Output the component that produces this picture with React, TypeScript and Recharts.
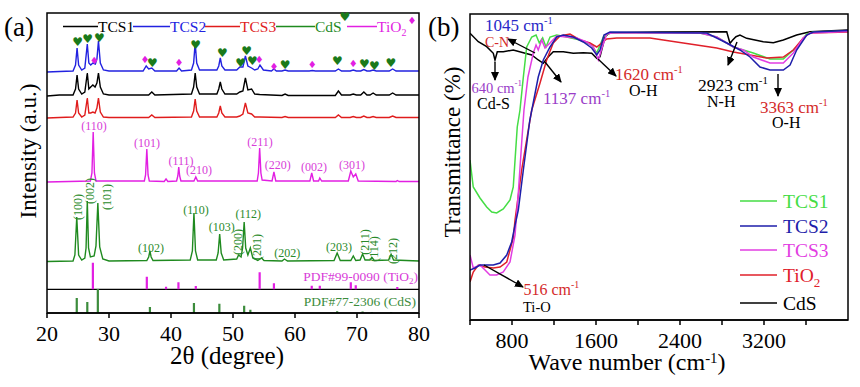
import React from "react";
import { ComposedChart, LineChart, Line, Scatter, XAxis, YAxis, ReferenceLine } from "recharts";

type Pt = [number, number];

// ---- panel (a): XRD, offsets already included (a.u.) ----
const xrdTCS2: Pt[] = [
  [20, 241], [22, 241.5], [24.2, 242], [24.6, 248], [24.85, 265], [25.1, 248], [25.6, 243], [26.1, 245], [26.5, 269],
  [26.75, 250], [27.05, 248], [27.4, 250], [27.8, 249], [28.05, 254], [28.3, 272], [28.6, 250], [29.1, 243], [30, 242],
  [35.5, 242], [36.0, 247], [36.4, 244], [36.9, 245], [37.4, 242], [40.9, 242], [41.3, 245], [41.7, 242], [43.3, 243],
  [43.65, 250], [43.9, 270], [44.15, 250], [44.6, 243], [47.4, 243], [47.7, 247], [47.95, 255], [48.2, 247], [48.7, 243],
  [50.6, 243], [51.1, 246], [51.6, 246], [52.0, 257], [52.4, 247], [53.0, 245], [53.5, 243], [54.0, 244], [54.35, 248],
  [54.9, 243], [56.2, 242], [56.6, 244], [57.0, 242], [57.9, 242], [58.4, 243], [58.9, 242], [62.3, 242], [62.8, 242.5],
  [63.3, 242], [66.5, 242], [67.0, 244], [67.5, 242], [68.9, 242], [69.4, 243], [69.9, 242], [70.6, 242], [71.1, 243.5],
  [71.6, 242], [72.1, 242], [72.6, 243], [73.1, 242], [75.2, 242], [75.75, 244], [76.3, 242], [80, 242],
];
const xrdTCS1: Pt[] = [
  [20, 217], [22, 218], [24.2, 218], [24.6, 224], [24.85, 238], [25.1, 224], [25.6, 219], [26.1, 221], [26.5, 240],
  [26.75, 224], [27.05, 226], [27.4, 228], [27.75, 226], [28.05, 230], [28.3, 240], [28.6, 226], [29.1, 219], [30, 218],
  [36.4, 218], [36.9, 221], [37.4, 218], [43.3, 219], [43.65, 226], [43.9, 240], [44.15, 226], [44.6, 219], [47.4, 219],
  [47.7, 224], [47.95, 231], [48.2, 224], [48.7, 219], [50.6, 219], [51.1, 221], [51.6, 222], [52.0, 235], [52.4, 223],
  [53.0, 224], [53.5, 219], [54.3, 218.5], [57.9, 217.5], [58.4, 219], [58.9, 217.5], [66.5, 217.5], [67.0, 222],
  [67.5, 218], [68.9, 218], [69.4, 219], [69.9, 218], [70.6, 218], [71.1, 221], [71.6, 218], [72.1, 218], [72.6, 220],
  [73.1, 218], [75.2, 218], [75.75, 220], [76.3, 218], [80, 218],
];
const xrdTCS3: Pt[] = [
  [20, 195], [22, 195.5], [24.2, 196], [24.6, 200], [24.85, 213], [25.1, 200], [25.6, 196], [26.1, 198], [26.5, 215],
  [26.75, 200], [27.05, 200], [27.4, 201], [27.75, 200], [28.05, 205], [28.3, 215], [28.6, 201], [29.1, 196], [30, 195.5],
  [36.4, 195.5], [36.9, 198], [37.4, 195.5], [43.3, 196], [43.65, 202], [43.9, 214], [44.15, 202], [44.6, 196], [47.4, 196],
  [47.7, 200], [47.95, 207], [48.2, 200], [48.7, 196], [50.6, 196], [51.1, 197], [51.6, 199], [52.0, 210], [52.4, 200],
  [53.0, 199], [53.5, 196], [54.3, 196], [57.9, 195.5], [58.4, 196.5], [58.9, 195.5], [66.5, 195.5], [67.0, 198],
  [67.5, 195.5], [68.9, 195.5], [69.4, 196.5], [69.9, 195.5], [70.6, 195.5], [71.1, 197], [71.6, 195.5], [72.1, 195.5],
  [72.6, 196.5], [73.1, 195.5], [75.2, 195.5], [75.75, 197], [76.3, 195.5], [80, 195.5],
];
const xrdTiO2: Pt[] = [
  [20, 131], [27.0, 132], [27.25, 140], [27.45, 181], [27.65, 140], [27.9, 132], [35.7, 132], [35.9, 138], [36.1, 164],
  [36.3, 138], [36.5, 132], [38.9, 131.5], [39.2, 134], [39.5, 131.5], [40.9, 132], [41.1, 137], [41.25, 146], [41.4, 137],
  [41.6, 132], [43.7, 132], [44.0, 136], [44.3, 132], [53.9, 132], [54.1, 140], [54.3, 165], [54.5, 140], [54.7, 133],
  [56.3, 132], [56.6, 141], [56.9, 132], [62.4, 132], [62.7, 140], [63.0, 132], [63.8, 132], [64.0, 135], [64.3, 132],
  [68.6, 132], [69.0, 142], [69.4, 136], [69.8, 139], [70.2, 132], [76.3, 131.5], [76.5, 132.5], [76.8, 131.5], [80, 131.5],
];
const xrdCdS: Pt[] = [
  [20, 51.5], [24.2, 52], [24.5, 58], [24.8, 96], [25.1, 58], [25.6, 53], [26.1, 55], [26.3, 65], [26.5, 112], [26.7, 65],
  [27.0, 56], [27.6, 57], [27.9, 67], [28.2, 110], [28.5, 66], [29.0, 54], [30, 52], [36.1, 52.5], [36.4, 56], [36.6, 62],
  [36.8, 56], [37.1, 52.5], [43.1, 53], [43.45, 62], [43.7, 100], [43.95, 62], [44.3, 53], [47.3, 53], [47.6, 60],
  [47.85, 79], [48.1, 60], [48.5, 53], [50.6, 54], [50.9, 58], [51.3, 56], [51.55, 65], [51.8, 91], [52.05, 65],
  [52.4, 58], [52.8, 65], [53.2, 55], [54.0, 52.5], [54.6, 55], [55.0, 52.5], [57.9, 52], [58.3, 54], [58.8, 52],
  [66.3, 52.5], [66.8, 60], [67.3, 52.5], [69.0, 52.5], [69.4, 57], [69.8, 52.5], [70.5, 53], [70.9, 59], [71.3, 53],
  [72.1, 53], [72.4, 55.5], [72.8, 52.5], [75.1, 53], [75.5, 58.7], [75.9, 53], [80, 52],
];

// reference patterns (stick positions / heights)
const tio2RefPos = [27.4, 36.1, 39.2, 41.2, 44.0, 54.3, 56.6, 62.7, 64.0, 69.0, 69.8, 76.5];
const tio2RefTop = [50.3, 36.3, 26.3, 30.7, 27, 40.7, 29.7, 27.3, 27.3, 30.7, 27.7, 26];
const TIO2_REF_BASE = 23.7;
const cdsRefPos = [24.8, 26.5, 28.2, 36.6, 43.7, 47.8, 51.8, 52.8, 66.8, 70.9, 72.4, 75.5];
const cdsRefTop = [15, 11, 24, 6, 10, 9.3, 7.3, 3.3, 1.7, 1.5, 1, 1];

// phase markers above TCS2
const heartMarks: Pt[] = [
  [24.95, 271], [26.56, 274.5], [28.44, 275.5], [36.98, 250], [43.98, 268.5], [48.27, 260.5], [51.24, 250],
  [52.21, 262], [53.11, 252], [58.39, 248], [66.82, 252], [71.18, 249.5], [72.79, 247], [75.48, 250],
];
const diamondMarks: Pt[] = [
  [27.63, 253], [35.81, 253.5], [41.29, 251], [54.24, 254], [56.61, 246.5], [62.79, 248.5], [69.4, 250],
];

const xrdTicks = [20, 30, 40, 50, 60, 70, 80];

// ---- panel (b): FTIR ----
const ftirCdS: Pt[] = [
  [400, 286.7], [479, 278.3], [559, 273.3], [622, 266.7], [638, 260], [660, 268.3], [717, 268.3], [812, 270], [908, 267.3],
  [988, 265], [1050, 260], [1098, 256.7], [1146, 263.3], [1193, 268.3], [1289, 268.3], [1384, 266.7], [1479, 267.3],
  [1559, 266.7], [1607, 261.7], [1638, 263.3], [1686, 283.3], [1733, 287.3], [2200, 288], [2845, 288.3], [2876, 276.7],
  [2902, 280], [2933, 283.3], [2971, 285], [3035, 281.7], [3193, 278.3], [3289, 277.3], [3384, 280], [3511, 285],
  [3638, 288.3], [4000, 290],
];
const ftirTCS1: Pt[] = [
  [400, 160], [431, 133], [495, 122], [559, 113], [607, 108], [654, 107], [717, 111], [781, 120], [812, 133], [829, 160],
  [850, 193], [876, 210], [908, 243], [940, 273], [988, 283], [1029, 285], [1060, 277], [1092, 282], [1124, 273],
  [1162, 283], [1226, 285], [1321, 283], [1448, 280], [1559, 275], [1607, 267], [1670, 283], [1733, 287], [2590, 287],
  [2750, 283], [2908, 273], [3003, 270], [3098, 267], [3257, 261], [3384, 261], [3511, 273], [3607, 286], [3670, 288],
  [4000, 289],
];
const ftirTCS2: Pt[] = [
  [400, 50], [448, 52], [495, 55], [622, 55], [686, 57], [750, 65], [797, 78], [829, 95], [860, 110], [908, 150],
  [970, 200], [1050, 243], [1098, 260], [1162, 273], [1226, 283], [1289, 285], [1384, 283], [1479, 278], [1559, 272],
  [1607, 265], [1638, 270], [1676, 285], [1733, 288], [2654, 287], [2845, 277], [2971, 270], [3067, 263], [3162, 253],
  [3257, 250], [3384, 250], [3448, 255], [3511, 270], [3607, 285], [3670, 288], [4000, 289.5],
];
const ftirTCS3: Pt[] = [
  [400, 65], [431, 52], [495, 55], [543, 50], [590, 45], [654, 45], [717, 48], [781, 58], [829, 85], [860, 127],
  [892, 177], [914, 210], [952, 243], [1003, 267], [1029, 275], [1050, 270], [1083, 280], [1114, 272], [1162, 277],
  [1226, 284], [1321, 283], [1416, 282], [1511, 278], [1574, 273], [1622, 260], [1657, 272], [1702, 286], [1752, 287],
  [2590, 287], [2750, 283], [2908, 273], [3003, 270], [3098, 263], [3257, 257], [3384, 257], [3479, 267], [3574, 282],
  [3638, 287], [4000, 288.5],
];
const ftirTiO2: Pt[] = [
  [400, 38], [431, 48], [479, 55], [543, 53], [622, 52], [686, 53], [750, 58], [812, 82], [829, 100], [892, 150],
  [955, 190], [988, 210], [1067, 237], [1130, 260], [1193, 277], [1257, 284], [1352, 286], [1448, 280], [1543, 277],
  [1607, 273], [1654, 277], [1702, 281], [1797, 282], [2114, 282], [2431, 277], [2750, 272], [2908, 268], [3067, 265],
  [3226, 262], [3384, 263], [3479, 270], [3574, 282], [3638, 287], [4000, 288],
];
const ftirTicks = [400, 800, 1200, 1600, 2000, 2400, 2800, 3200, 3600];
const ftirLabelled = [800, 1600, 2400, 3200];

const SERIF = "Liberation Serif, Tinos, DejaVu Serif, serif";

const toPoints = (pts: Pt[]) => pts.map(([x, y]) => ({ x, y }));
const sticks = (pos: number[], top: number[], base: number) =>
  pos.flatMap((p, i) => [
    { x: p, y: base },
    { x: p, y: top[i] },
    { x: p, y: null },
  ]);

const glyph = (ch: string, color: string, size: number) => (props: any) =>
  (
    <text x={props.cx} y={props.cy} fill={color} fontSize={size} textAnchor="middle" dominantBaseline="central" style={{ fontFamily: "DejaVu Sans" }}>
      {ch}
    </text>
  );

// tick labels: blank strings for the unlabelled minor ticks
const SerifTick = (props: any) => {
  const { x, y, payload, formatter } = props;
  const label = formatter ? formatter(payload.value) : String(payload.value);
  if (!label) return null;
  return (
    <text x={x} y={y + 16} textAnchor="middle" fontSize={22} fill="#000" style={{ fontFamily: SERIF }}>
      {label}
    </text>
  );
};

const Sup = ({ children }: { children: string }) => (
  <tspan dy={-7} fontSize="0.62em">
    {children}
  </tspan>
);

const XrdPanel = () => (
  <ComposedChart width={430} height={387} margin={{ top: 13, right: 11, bottom: 14, left: 47 }}>
    <XAxis
      type="number"
      dataKey="x"
      domain={[20, 80]}
      ticks={xrdTicks}
      tickSize={5}
      tickMargin={7}
      height={60}
      stroke="#000"
      strokeWidth={1.5}
      tick={<SerifTick />}
      allowDataOverflow
    />
    <YAxis type="number" dataKey="y" domain={[0, 300]} hide allowDataOverflow />
    <ReferenceLine y={TIO2_REF_BASE} stroke="#000" strokeWidth={1.3} />
    <Line data={toPoints(xrdTCS2)} dataKey="y" type="linear" stroke="#2222e0" strokeWidth={1.4} dot={false} isAnimationActive={false} />
    <Line data={toPoints(xrdTCS1)} dataKey="y" type="linear" stroke="#000" strokeWidth={1.4} dot={false} isAnimationActive={false} />
    <Line data={toPoints(xrdTCS3)} dataKey="y" type="linear" stroke="#e01c1c" strokeWidth={1.4} dot={false} isAnimationActive={false} />
    <Line data={toPoints(xrdTiO2)} dataKey="y" type="linear" stroke="#e21fe2" strokeWidth={1.4} dot={false} isAnimationActive={false} />
    <Line data={toPoints(xrdCdS)} dataKey="y" type="linear" stroke="#1f8a1f" strokeWidth={1.4} dot={false} isAnimationActive={false} />
    <Line data={sticks(tio2RefPos, tio2RefTop, TIO2_REF_BASE)} dataKey="y" type="linear" stroke="#e21fe2" strokeWidth={2.2} dot={false} isAnimationActive={false} />
    <Line data={sticks(cdsRefPos, cdsRefTop, 0)} dataKey="y" type="linear" stroke="#3c8c3c" strokeWidth={2.2} dot={false} isAnimationActive={false} />
    <Scatter data={toPoints(heartMarks)} shape={glyph("\u2665", "#1a7a1a", 12)} isAnimationActive={false} />
    <Scatter data={toPoints(diamondMarks)} shape={glyph("\u2666", "#e21fe2", 10)} isAnimationActive={false} />
  </ComposedChart>
);

const ftirFormat = (v: number) => (ftirLabelled.includes(v) ? String(v) : "");

const FtirPanel = () => (
  <LineChart width={430} height={387} margin={{ top: 14, right: 12, bottom: 12, left: 40 }}>
    <XAxis
      type="number"
      dataKey="x"
      domain={[400, 4000]}
      ticks={ftirTicks}
      tickSize={5}
      tickMargin={7}
      height={55}
      stroke="#000"
      strokeWidth={1.5}
      tick={<SerifTick formatter={ftirFormat} />}
      allowDataOverflow
    />
    <YAxis type="number" dataKey="y" domain={[0, 306]} hide allowDataOverflow />
    <Line data={toPoints(ftirCdS)} dataKey="y" type="linear" stroke="#000" strokeWidth={1.5} dot={false} isAnimationActive={false} />
    <Line data={toPoints(ftirTCS1)} dataKey="y" type="linear" stroke="#45dd45" strokeWidth={1.5} dot={false} isAnimationActive={false} />
    <Line data={toPoints(ftirTiO2)} dataKey="y" type="linear" stroke="#e0202a" strokeWidth={1.5} dot={false} isAnimationActive={false} />
    <Line data={toPoints(ftirTCS3)} dataKey="y" type="linear" stroke="#e23ee2" strokeWidth={1.5} dot={false} isAnimationActive={false} />
    <Line data={toPoints(ftirTCS2)} dataKey="y" type="linear" stroke="#1e1eaa" strokeWidth={1.5} dot={false} isAnimationActive={false} />
  </LineChart>
);

const tio2Labels: [string, number, number][] = [
  ["(110)", 94, 130], ["(101)", 147, 146.5], ["(111)", 181, 165], ["(210)", 199, 174],
  ["(211)", 260, 146], ["(220)", 277.7, 169], ["(002)", 314, 171], ["(301)", 352, 168.5],
];
const cdsFlatLabels: [string, number, number][] = [
  ["(102)", 151, 251.5], ["(110)", 196, 214], ["(103)", 221.7, 231], ["(112)", 248.3, 217.5],
  ["(202)", 287.3, 257], ["(203)", 339, 251],
];
const cdsVertLabels: [string, number, number][] = [
  ["(100)", 78, 207], ["(002)", 90, 191], ["(101)", 107, 197], ["(200)", 237.5, 242],
  ["(201)", 256.5, 247], ["(211)", 365, 242], ["(114)", 374, 249], ["(212)", 393.3, 251],
];

const legendA = [
  { x1: 63, x2: 98, label: "TCS1", color: "#000" },
  { x1: 133, x2: 170, label: "TCS2", color: "#2222e0" },
  { x1: 205, x2: 240, label: "TCS3", color: "#e01c1c" },
  { x1: 276, x2: 315, label: "CdS", color: "#1f8a1f" },
  { x1: 347, x2: 377, label: "TiO", color: "#e21fe2" },
];

const legendB = [
  { y: 201, label: "TCS1", color: "#45dd45" },
  { y: 226, label: "TCS2", color: "#1e1eaa" },
  { y: 250, label: "TCS3", color: "#e23ee2" },
  { y: 275, label: "TiO", color: "#e0202a" },
  { y: 303, label: "CdS", color: "#000" },
];

const arrows: [number, number, number, number][] = [
  [535, 53, 508, 39],
  [495, 62, 495, 80],
  [545, 62, 561, 82],
  [598, 59, 616, 76],
  [737, 42, 728, 65],
  [778, 74, 778, 96],
  [484, 265, 523, 287],
];

const Overlay = () => (
  <svg width={860} height={387} style={{ position: "absolute", left: 0, top: 0, pointerEvents: "none", fontFamily: SERIF }}>
    <defs>
      <marker id="ah" markerWidth="9" markerHeight="8" refX="8" refY="4" orient="auto" markerUnits="userSpaceOnUse">
        <path d="M0,0 L9,4 L0,8 z" fill="#000" />
      </marker>
    </defs>
    {/* panel (a) */}
    <rect x={47} y={13} width={372} height={300} fill="none" stroke="#000" strokeWidth={1.5} />
    <text x={4} y={36} fontSize={27}>(a)</text>
    {legendA.map((l) => (
      <g key={l.label}>
        <line x1={l.x1} x2={l.x2} y1={26.5} y2={26.5} stroke={l.color} strokeWidth={1.5} />
        <text x={l.x2} y={31.5} fontSize={15.5} fill={l.color}>
          {l.label}
          {l.label === "TiO" && <tspan dy={4} fontSize={10}>2</tspan>}
        </text>
      </g>
    ))}
    <text x={345} y={17} fontSize={12} fill="#1a7a1a" textAnchor="middle" dominantBaseline="central" style={{ fontFamily: "DejaVu Sans" }}>{"\u2665"}</text>
    <text x={412} y={20} fontSize={10} fill="#e21fe2" textAnchor="middle" dominantBaseline="central" style={{ fontFamily: "DejaVu Sans" }}>{"\u2666"}</text>
    <text transform="translate(28,151) rotate(-90)" textAnchor="middle" dominantBaseline="central" fontSize={23}>Intensity (a.u.)</text>
    {tio2Labels.map(([t, x, y]) => (
      <text key={t + x} x={x} y={y} fontSize={12} fill="#d83cd8" textAnchor="middle">{t}</text>
    ))}
    {cdsFlatLabels.map(([t, x, y]) => (
      <text key={t + x} x={x} y={y} fontSize={12} fill="#2a8a2a" textAnchor="middle">{t}</text>
    ))}
    {cdsVertLabels.map(([t, x, y]) => (
      <text key={t + x} transform={`translate(${x},${y}) rotate(-90)`} fontSize={12} fill="#2a8a2a" textAnchor="middle" dominantBaseline="central">{t}</text>
    ))}
    <text x={418} y={280.5} fontSize={13.5} fill="#d83cd8" textAnchor="end">
      PDF#99-0090 (TiO<tspan dy={3} fontSize={9}>2</tspan><tspan dy={-3}>)</tspan>
    </text>
    <text x={416} y={306} fontSize={13.5} fill="#3c8c3c" textAnchor="end">PDF#77-2306 (CdS)</text>
    <text x={227} y={364} fontSize={25} textAnchor="middle">2θ (degree)</text>

    {/* panel (b) */}
    <rect x={470} y={14} width={378} height={306} fill="none" stroke="#000" strokeWidth={1.5} />
    <text x={428} y={36} fontSize={27}>(b)</text>
    <text transform="translate(452,152) rotate(-90)" textAnchor="middle" dominantBaseline="central" fontSize={23}>Transmittance (%)</text>
    <text x={627} y={370} fontSize={24} textAnchor="middle">
      Wave number (cm<Sup>-1</Sup><tspan dy={7}>)</tspan>
    </text>
    {arrows.map(([x1, y1, x2, y2], i) => (
      <line key={i} x1={x1} y1={y1} x2={x2} y2={y2} stroke="#000" strokeWidth={1.4} markerEnd="url(#ah)" />
    ))}
    <text x={485} y={30.5} fontSize={17} fill="#2828c8">1045 cm<Sup>-1</Sup></text>
    <text x={485} y={46.5} fontSize={14} fill="#d42a2a">C-N</text>
    <text x={471.5} y={93} fontSize={14.5} fill="#9a3dc8">640 cm<Sup>-1</Sup></text>
    <text x={477} y={109} fontSize={16}>Cd-S</text>
    <text x={543} y={104} fontSize={17} fill="#9a3dc8">1137 cm<Sup>-1</Sup></text>
    <text x={615} y={80} fontSize={17} fill="#d42a2a">1620 cm<Sup>-1</Sup></text>
    <text x={629} y={96} fontSize={16}>O-H</text>
    <text x={698} y={91} fontSize={17.5}>2923 cm<Sup>-1</Sup></text>
    <text x={707} y={106.5} fontSize={16}>N-H</text>
    <text x={760} y={112.5} fontSize={17} fill="#d42a2a">3363 cm<Sup>-1</Sup></text>
    <text x={772} y={128} fontSize={16}>O-H</text>
    <text x={523.5} y={295} fontSize={16} fill="#d42a2a">516 cm<Sup>-1</Sup></text>
    <text x={523} y={311.5} fontSize={14.5}>Ti-O</text>
    {legendB.map((l) => (
      <g key={l.label}>
        <line x1={740} x2={777} y1={l.y} y2={l.y} stroke={l.color} strokeWidth={1.6} />
        <text x={783} y={l.y + 7} fontSize={19.5} fill={l.color}>
          {l.label}
          {l.label === "TiO" && <tspan dy={5} fontSize={13}>2</tspan>}
        </text>
      </g>
    ))}
  </svg>
);

export default function App() {
  return (
    <div style={{ position: "absolute", left: 0, top: 0, width: 860, height: 387, background: "#fff" }}>
      <div style={{ position: "absolute", left: 0, top: 0 }}>
        <XrdPanel />
      </div>
      <div style={{ position: "absolute", left: 430, top: 0 }}>
        <FtirPanel />
      </div>
      <Overlay />
    </div>
  );
}
